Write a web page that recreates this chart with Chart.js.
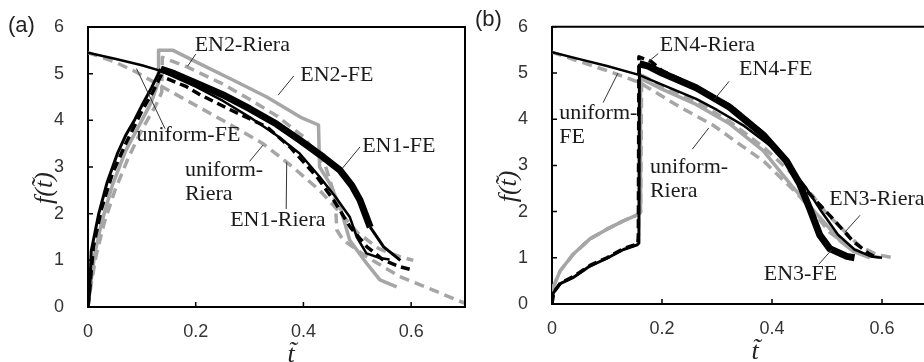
<!DOCTYPE html>
<html>
<head>
<meta charset="utf-8">
<script src="https://cdn.jsdelivr.net/npm/chart.js@4.4.1/dist/chart.umd.min.js"></script>
<style>
  body { margin: 0; width: 924px; height: 362px; overflow: hidden; position: relative; background: #fff; }
  .panel { position: absolute; top: 0; height: 362px; }
</style>
</head>
<body>
<div class="panel" style="left:0;width:468px"><canvas id="chartA"></canvas></div>
<div class="panel" style="left:462px;width:478px"><canvas id="chartB"></canvas></div>
<script>
const black = "#000"
const grey = "#a6a6a6"
const serif = '"Liberation Serif", "Times New Roman", "DejaVu Serif", serif'

const xTicks = [0, 0.2, 0.4, 0.6]
const xTickLabels = ["0", "0.2", "0.4", "0.6"]
const yTicks = [0, 1, 2, 3, 4, 5, 6]
const yTickLabels = ["0", "1", "2", "3", "4", "5", "6"]

// panel (a): t values and f(t) values
const aEn1FeT = [0, 0.003, 0.006, 0.02, 0.035, 0.055, 0.07, 0.087, 0.102, 0.118, 0.135, 0.16, 0.2, 0.25, 0.3, 0.35, 0.394, 0.437, 0.468, 0.49, 0.505, 0.524, 0.549, 0.58]
const aEn1FeF = [0, 0.3, 1.2, 2.0, 2.65, 3.3, 3.68, 4.02, 4.36, 4.7, 5.1, 5.0, 4.8, 4.55, 4.25, 3.92, 3.57, 3.21, 2.93, 2.6, 2.29, 1.71, 1.29, 1.0]
const aEn1RieraT = [0, 0.004, 0.01, 0.025, 0.045, 0.07, 0.1, 0.12, 0.135, 0.183, 0.208, 0.26, 0.332, 0.375, 0.425, 0.456, 0.487, 0.518, 0.549, 0.58, 0.604]
const aEn1RieraF = [0, 0.5, 1.3, 2.1, 2.85, 3.5, 4.2, 4.6, 4.95, 4.72, 4.55, 4.25, 3.86, 3.43, 2.79, 2.29, 1.71, 1.29, 1.0, 0.86, 0.79]
const aEn2FeT = [0, 0.005, 0.012, 0.025, 0.045, 0.07, 0.1, 0.118, 0.13, 0.131, 0.158, 0.208, 0.27, 0.332, 0.394, 0.428, 0.43, 0.449, 0.468, 0.486, 0.517, 0.542, 0.573]
const aEn2FeF = [0, 0.5, 1.1, 1.8, 2.6, 3.35, 4.0, 4.4, 4.8, 5.5, 5.5, 5.21, 4.86, 4.5, 4.07, 3.9, 3.0, 2.65, 2.15, 1.43, 0.94, 0.58, 0.43]
const aEn2RieraT = [0, 0.006, 0.015, 0.03, 0.05, 0.075, 0.1, 0.125, 0.137, 0.138, 0.183, 0.25, 0.3, 0.35, 0.4, 0.44, 0.455, 0.46, 0.462, 0.474, 0.517, 0.579, 0.641, 0.7]
const aEn2RieraF = [0, 0.5, 1.1, 1.8, 2.5, 3.2, 3.8, 4.3, 4.6, 5.35, 5.15, 4.78, 4.45, 4.1, 3.65, 3.05, 2.5, 2.1, 1.65, 1.43, 1.08, 0.65, 0.36, 0.08]
const aUniFeT = [0, 0.05, 0.1, 0.135, 0.2, 0.25, 0.3, 0.35, 0.393, 0.43, 0.46, 0.486, 0.499, 0.517, 0.542, 0.56]
const aUniFeF = [5.45, 5.32, 5.18, 5.06, 4.72, 4.42, 4.07, 3.68, 3.29, 2.79, 2.35, 1.93, 1.5, 1.15, 1.05, 1.02]
const aUniRieraT = [0, 0.05, 0.087, 0.133, 0.183, 0.25, 0.325, 0.38, 0.43, 0.47, 0.5, 0.54, 0.579, 0.604]
const aUniRieraF = [5.45, 5.25, 5.05, 4.75, 4.43, 4.0, 3.5, 3.0, 2.5, 2.0, 1.6, 1.25, 1.08, 1.0]

// panel (b)
const bEn4FeT = [0, 0.002, 0.015, 0.038, 0.069, 0.1, 0.13, 0.155, 0.158, 0.159, 0.175, 0.2, 0.262, 0.323, 0.384, 0.426, 0.45, 0.469, 0.487, 0.505, 0.536, 0.55]
const bEn4FeF = [0, 0.23, 0.44, 0.57, 0.82, 0.99, 1.18, 1.28, 1.32, 5.2, 5.15, 5.0, 4.68, 4.26, 3.66, 3.1, 2.61, 2.05, 1.49, 1.2, 1.03, 1.0]
const bEn4RieraT = [0, 0.003, 0.015, 0.04, 0.07, 0.1, 0.13, 0.156, 0.157, 0.158, 0.18, 0.2, 0.262, 0.323, 0.384, 0.427, 0.456, 0.511, 0.548, 0.575, 0.59]
const bEn4RieraF = [0, 0.25, 0.45, 0.6, 0.84, 1.0, 1.2, 1.3, 1.5, 5.35, 5.25, 5.05, 4.7, 4.3, 3.7, 3.1, 2.54, 1.84, 1.35, 1.1, 1.0]
const bEn3FeT = [0, 0.002, 0.015, 0.038, 0.069, 0.1, 0.13, 0.157, 0.16, 0.161, 0.2, 0.262, 0.323, 0.384, 0.437, 0.47, 0.5, 0.525, 0.548, 0.578]
const bEn3FeF = [0, 0.36, 0.72, 1.07, 1.41, 1.62, 1.8, 1.94, 1.98, 4.88, 4.65, 4.32, 3.9, 3.32, 2.54, 2.1, 1.7, 1.35, 1.14, 1.0]
const bEn3RieraT = [0, 0.002, 0.015, 0.038, 0.069, 0.1, 0.13, 0.157, 0.161, 0.163, 0.2, 0.262, 0.323, 0.384, 0.43, 0.47, 0.5, 0.533, 0.56, 0.59, 0.622]
const bEn3RieraF = [0, 0.36, 0.72, 1.07, 1.41, 1.62, 1.8, 1.94, 2.0, 4.95, 4.72, 4.38, 3.95, 3.4, 2.9, 2.4, 1.95, 1.56, 1.25, 1.07, 1.0]
const bUniFeT = [0, 0.05, 0.1, 0.158, 0.2, 0.262, 0.3, 0.35, 0.4, 0.43, 0.46, 0.49, 0.52, 0.55, 0.58, 0.6]
const bUniFeF = [5.45, 5.3, 5.15, 4.96, 4.75, 4.44, 4.2, 3.85, 3.4, 3.0, 2.55, 2.0, 1.5, 1.18, 1.03, 1.0]
const bUniRieraT = [0, 0.05, 0.1, 0.158, 0.233, 0.293, 0.342, 0.384, 0.445, 0.475, 0.505, 0.54, 0.566, 0.6]
const bUniRieraF = [5.45, 5.25, 5.05, 4.8, 4.26, 3.87, 3.45, 3.1, 2.4, 2.0, 1.55, 1.25, 1.07, 1.0]

// callout texts, placed in data units
const notesA = [
    { lines: ["EN2-Riera"], at: [0.198, 5.48], lead: [0.185, 5.16, 0.2, 5.42] },
    { lines: ["EN2-FE"], at: [0.394, 4.84], lead: [0.353, 4.54, 0.382, 4.95] },
    { lines: ["uniform-FE"], at: [0.09, 3.55], lead: [0.09, 5.11, 0.143, 3.82] },
    { lines: ["uniform-", "Riera"], at: [0.18, 2.8], lead: [0.3, 3.12, 0.325, 3.47] },
    { lines: ["EN1-Riera"], at: [0.264, 1.73], lead: [0.368, 2.1, 0.369, 3.1] },
    { lines: ["EN1-FE"], at: [0.509, 3.32], lead: [0.473, 2.98, 0.505, 3.43] }
]
const notesB = [
    { lines: ["EN4-Riera"], at: [0.196, 5.47], lead: [0.175, 5.24, 0.193, 5.42] },
    { lines: ["EN4-FE"], at: [0.34, 4.95], lead: [0.296, 4.44, 0.322, 4.82] },
    { lines: ["uniform-", "FE"], at: [0.013, 4.0], lead: [0.093, 4.36, 0.12, 5.0] },
    { lines: ["uniform-", "Riera"], at: [0.178, 2.84], lead: [0.255, 3.35, 0.285, 3.81] },
    { lines: ["EN3-Riera"], at: [0.504, 2.15], lead: [0.533, 1.56, 0.56, 1.92] },
    { lines: ["EN3-FE"], at: [0.385, 0.53], lead: [0.485, 0.86, 0.509, 1.18] }
]

const pts = (ts, fs) => ts.map((t, i) => ({ x: t, y: fs[i] }))

function series(label, ts, fs, style) {
    return Object.assign({ label, data: pts(ts, fs), showLine: true, pointRadius: 0, tension: 0, fill: false, borderJoinStyle: "round" }, style)
}

// the FE runs are drawn as a heavy jagged band after the jump
const band = (from, to) => ({ borderColor: black, borderWidth: 3, segment: { borderWidth: c => (c.p0.parsed.x >= from && c.p1.parsed.x <= to) ? 7 : undefined } })
const thinBlack = { borderColor: black, borderWidth: 2.5 }
const dashBlack = { borderColor: black, borderWidth: 3.5, borderDash: [9, 5] }
const solidGrey = { borderColor: grey, borderWidth: 3.5 }
const dashGrey = { borderColor: grey, borderWidth: 3.5, borderDash: [10, 6] }

// writes pieces left to right, putting a tilde over the "t"
function tildeText(ctx, pieces, x, y) {
    const total = pieces.reduce((w, p) => w + ctx.measureText(p).width, 0)
    let cx = x - total / 2
    pieces.forEach(p => {
        const w = ctx.measureText(p).width
        ctx.fillText(p, cx, y)
        if (p === "t") ctx.fillText("\u02DC", cx + w / 2 - 3, y - 3)
        cx += w
    })
}

const decor = {
    id: "decor",
    afterDraw(chart, args, o) {
        const { ctx, chartArea: a, scales: { x, y } } = chart
        ctx.save()
        ctx.strokeStyle = "#000"
        ctx.lineWidth = 2
        ctx.beginPath()
        ctx.moveTo(a.left, a.top)
        ctx.lineTo(a.right, a.top)
        ctx.lineTo(a.right, a.bottom)
        ctx.stroke()

        // tick marks point into the plot
        ctx.lineWidth = 1.5
        ctx.beginPath()
        xTicks.forEach(v => { const p = x.getPixelForValue(v); ctx.moveTo(p, a.bottom); ctx.lineTo(p, a.bottom - 5) })
        yTicks.forEach(v => { const p = y.getPixelForValue(v); ctx.moveTo(a.left, p); ctx.lineTo(a.left + 5, p) })
        ctx.stroke()

        ctx.strokeStyle = "#333"
        ctx.lineWidth = 1
        ctx.font = "22px " + serif
        ctx.fillStyle = "#1a1a1a"
        ctx.textBaseline = "alphabetic"
        ctx.textAlign = "left"
        o.notes.forEach(n => {
            ctx.beginPath()
            ctx.moveTo(x.getPixelForValue(n.lead[0]), y.getPixelForValue(n.lead[1]))
            ctx.lineTo(x.getPixelForValue(n.lead[2]), y.getPixelForValue(n.lead[3]))
            ctx.stroke()
            const tx = x.getPixelForValue(n.at[0])
            const ty = y.getPixelForValue(n.at[1])
            n.lines.forEach((s, i) => ctx.fillText(s, tx, ty + i * 24))
        })

        ctx.font = '22px "Liberation Sans"'
        ctx.fillStyle = "#222"
        ctx.fillText(o.tag, o.tagX, o.tagY)

        ctx.font = "italic 26px " + serif
        tildeText(ctx, ["t"], a.left + 203, a.bottom + 55)
        ctx.translate(a.left - 36, (a.top + a.bottom) / 2 + 21)
        ctx.rotate(-Math.PI / 2)
        tildeText(ctx, ["f", "(", "t", ")"], 0, 0)
        ctx.restore()
    }
}

function makeChart(id, datasets, opts) {
    return new Chart(document.getElementById(id), {
        type: "scatter",
        data: { datasets },
        plugins: [decor],
        options: {
            responsive: true,
            maintainAspectRatio: false,
            animation: false,
            devicePixelRatio: 1,
            layout: { padding: { left: 0, top: opts.top, right: 3, bottom: 0 } },
            plugins: { legend: { display: false }, tooltip: { enabled: false }, decor: opts },
            scales: {
                x: {
                    type: "linear", min: 0, max: 0.7,
                    afterBuildTicks: s => { s.ticks = xTicks.map(v => ({ value: v })) },
                    afterFit: s => { s.height = 362 - opts.bottom },
                    grid: { display: false },
                    border: { color: "#000", width: 2 },
                    ticks: { autoSkip: false, maxRotation: 0, padding: 6, color: "#333", font: { family: "Liberation Sans", size: 18 },
                        callback: v => xTickLabels[xTicks.indexOf(v)] }
                },
                y: {
                    min: 0, max: 6,
                    afterBuildTicks: s => { s.ticks = yTicks.map(v => ({ value: v })) },
                    afterFit: s => { s.width = opts.left },
                    grid: { display: false },
                    border: { color: "#000", width: 2 },
                    ticks: { padding: 16, color: "#333", font: { family: "Liberation Sans", size: 18 },
                        callback: v => yTickLabels[yTicks.indexOf(v)] }
                }
            }
        }
    })
}

makeChart("chartA", [
    series("EN1-FE", aEn1FeT, aEn1FeF, band(0.134, 0.525)),
    series("uniform-FE", aUniFeT, aUniFeF, thinBlack),
    series("EN1-Riera", aEn1RieraT, aEn1RieraF, dashBlack),
    series("EN2-FE", aEn2FeT, aEn2FeF, solidGrey),
    series("EN2-Riera", aEn2RieraT, aEn2RieraF, dashGrey),
    series("uniform-Riera", aUniRieraT, aUniRieraF, dashGrey)
], { top: 27, bottom: 307, left: 88, notes: notesA, tag: "(a)", tagX: 8, tagY: 32 })

makeChart("chartB", [
    series("EN4-FE", bEn4FeT, bEn4FeF, band(0.159, 0.56)),
    series("uniform-FE", bUniFeT, bUniFeF, thinBlack),
    series("EN4-Riera", bEn4RieraT, bEn4RieraF, dashBlack),
    series("EN3-FE", bEn3FeT, bEn3FeF, solidGrey),
    series("EN3-Riera", bEn3RieraT, bEn3RieraF, dashGrey),
    series("uniform-Riera", bUniRieraT, bUniRieraF, dashGrey)
], { top: 19, bottom: 304, left: 90, notes: notesB, tag: "(b)", tagX: 13, tagY: 26 })
</script>
</body>
</html>
